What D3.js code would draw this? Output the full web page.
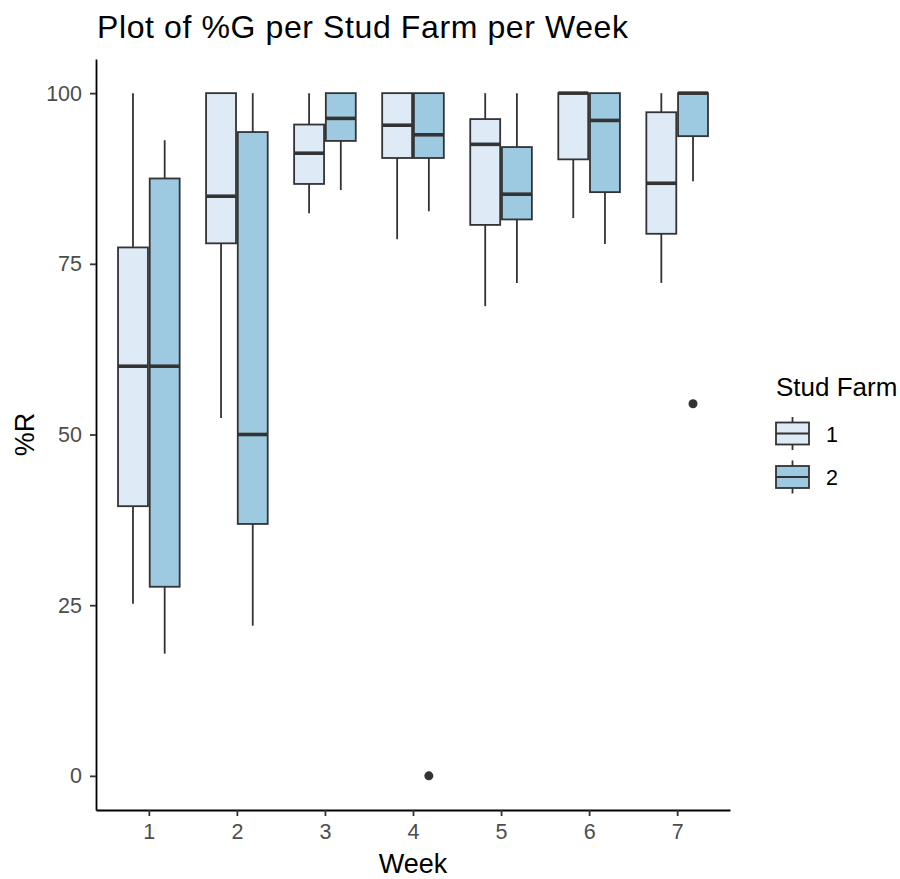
<!DOCTYPE html>
<html>
<head>
<meta charset="utf-8">
<script src="https://cdn.jsdelivr.net/npm/d3@7"></script>
<style>
  body { margin: 0; background: #fff; }
  svg { display: block; font-family: "Liberation Sans", Arial, sans-serif; }
</style>
</head>
<body>
<div id="chart"></div>
<script>
// values
const weeks = [1, 2, 3, 4, 5, 6, 7];
const farms = ["1", "2"];
const farmColors = ["#DEEBF7", "#9ECAE1"];
const yTicks = [0, 25, 50, 75, 100];

const farm1Lower  = [25.2, 52.4, 82.4, 78.6, 68.8, 81.7, 72.2];
const farm1Q1     = [39.5, 78.0, 86.7, 90.5, 80.7, 90.3, 79.4];
const farm1Median = [60.0, 84.9, 91.2, 95.3, 92.5, 100, 86.8];
const farm1Q3     = [77.4, 100, 95.4, 100, 96.2, 100, 97.2];
const farm1Upper  = [100, 100, 100, 100, 100, 100, 100];

const farm2Lower  = [17.9, 22.0, 85.8, 82.7, 72.2, 77.9, 87.1];
const farm2Q1     = [27.7, 36.9, 93.0, 90.5, 81.5, 85.5, 93.7];
const farm2Median = [60.0, 50.0, 96.3, 93.9, 85.2, 96.0, 100];
const farm2Q3     = [87.5, 94.3, 100, 100, 92.1, 100, 100];
const farm2Upper  = [93.1, 100, 100, 100, 100, 100, 100];

// outliers: [week, farm index, value]
const outliers = [[4, 1, 0], [7, 1, 54.5]];

const W = 900, H = 879;
const margin = { top: 59, left: 96, right: 170, bottom: 69 };

const svg = d3.select("#chart").append("svg")
  .attr("width", W)
  .attr("height", H);

const x = d3.scaleLinear().domain([0.4, 7.6]).range([margin.left, W - margin.right]);
const y = d3.scaleLinear().domain([-5, 105]).range([H - margin.bottom, margin.top]);

const dodge = 0.18;   // week units
const halfW = 0.17;
const lineCol = "#333333";
const lw = 1.8;

const stats = [
  { lower: farm1Lower, q1: farm1Q1, median: farm1Median, q3: farm1Q3, upper: farm1Upper },
  { lower: farm2Lower, q1: farm2Q1, median: farm2Median, q3: farm2Q3, upper: farm2Upper }
];

const boxes = [];
weeks.forEach((w, i) => {
  stats.forEach((s, f) => {
    boxes.push({
      week: w, farm: f,
      lower: s.lower[i], q1: s.q1[i], median: s.median[i], q3: s.q3[i], upper: s.upper[i]
    });
  });
});

const g = svg.append("g");

boxes.forEach(b => {
  const cx = b.week + (b.farm === 0 ? -dodge : dodge);
  const bg = g.append("g");

  bg.append("line")
    .attr("x1", x(cx)).attr("x2", x(cx))
    .attr("y1", y(b.upper)).attr("y2", y(b.q3))
    .attr("stroke", lineCol).attr("stroke-width", lw);
  bg.append("line")
    .attr("x1", x(cx)).attr("x2", x(cx))
    .attr("y1", y(b.q1)).attr("y2", y(b.lower))
    .attr("stroke", lineCol).attr("stroke-width", lw);

  bg.append("rect")
    .attr("x", x(cx - halfW))
    .attr("y", y(b.q3))
    .attr("width", x(cx + halfW) - x(cx - halfW))
    .attr("height", y(b.q1) - y(b.q3))
    .attr("fill", farmColors[b.farm])
    .attr("stroke", lineCol)
    .attr("stroke-width", lw);

  bg.append("line")
    .attr("x1", x(cx - halfW)).attr("x2", x(cx + halfW))
    .attr("y1", y(b.median)).attr("y2", y(b.median))
    .attr("stroke", lineCol).attr("stroke-width", 3.6);
});

g.selectAll("circle.outlier")
  .data(outliers)
  .join("circle")
    .attr("class", "outlier")
    .attr("cx", d => x(d[0] + (d[1] === 0 ? -dodge : dodge)))
    .attr("cy", d => y(d[2]))
    .attr("r", 4.5)
    .attr("fill", lineCol);

// axes
const xAxis = svg.append("g")
  .attr("transform", `translate(0, ${H - margin.bottom})`)
  .call(d3.axisBottom(x).tickValues(weeks).tickFormat(d3.format("d")).tickSize(6).tickSizeOuter(0).tickPadding(8));

const yAxis = svg.append("g")
  .attr("transform", `translate(${margin.left}, 0)`)
  .call(d3.axisLeft(y).tickValues(yTicks).tickSize(6).tickSizeOuter(0).tickPadding(8));

[xAxis, yAxis].forEach(a => {
  a.select(".domain").attr("stroke", "#000").attr("stroke-width", 1.8);
  a.selectAll(".tick line").attr("stroke", lineCol).attr("stroke-width", 1.8);
  a.selectAll(".tick text")
    .attr("fill", "#4D4D4D")
    .style("font-size", "21.5px")
    .style("font-family", "'Liberation Sans', Arial, sans-serif");
});

// titles
svg.append("text")
  .attr("x", 97)
  .attr("y", 38)
  .attr("textLength", 531)
  .attr("lengthAdjust", "spacing")
  .style("font-size", "32px")
  .attr("fill", "#000")
  .text("Plot of %G per Stud Farm per Week");

svg.append("text")
  .attr("x", x(4))
  .attr("y", 873)
  .attr("text-anchor", "middle")
  .style("font-size", "27px")
  .text("Week");

svg.append("text")
  .attr("transform", `translate(34, ${(y(-5) + y(105)) / 2}) rotate(-90)`)
  .attr("text-anchor", "middle")
  .style("font-size", "27px")
  .text("%R");

// legend
const legend = svg.append("g").attr("transform", "translate(776, 0)");

legend.append("text")
  .attr("x", 0)
  .attr("y", 396)
  .style("font-size", "26px")
  .text("Stud Farm");

const keys = legend.selectAll("g.key")
  .data(farms)
  .join("g")
    .attr("class", "key")
    .attr("transform", (d, i) => `translate(0, ${433.5 + i * 43.5})`);

keys.append("line")
  .attr("x1", 16.5).attr("x2", 16.5)
  .attr("y1", -16.5).attr("y2", 16.5)
  .attr("stroke", lineCol).attr("stroke-width", lw);

keys.append("rect")
  .attr("x", 0).attr("y", -11)
  .attr("width", 33).attr("height", 22)
  .attr("fill", (d, i) => farmColors[i])
  .attr("stroke", lineCol).attr("stroke-width", lw);

keys.append("line")
  .attr("x1", 0).attr("x2", 33)
  .attr("y1", 0).attr("y2", 0)
  .attr("stroke", lineCol).attr("stroke-width", lw);

keys.append("text")
  .attr("x", 50)
  .attr("y", 8)
  .style("font-size", "21.5px")
  .text(d => d);
</script>
</body>
</html>
